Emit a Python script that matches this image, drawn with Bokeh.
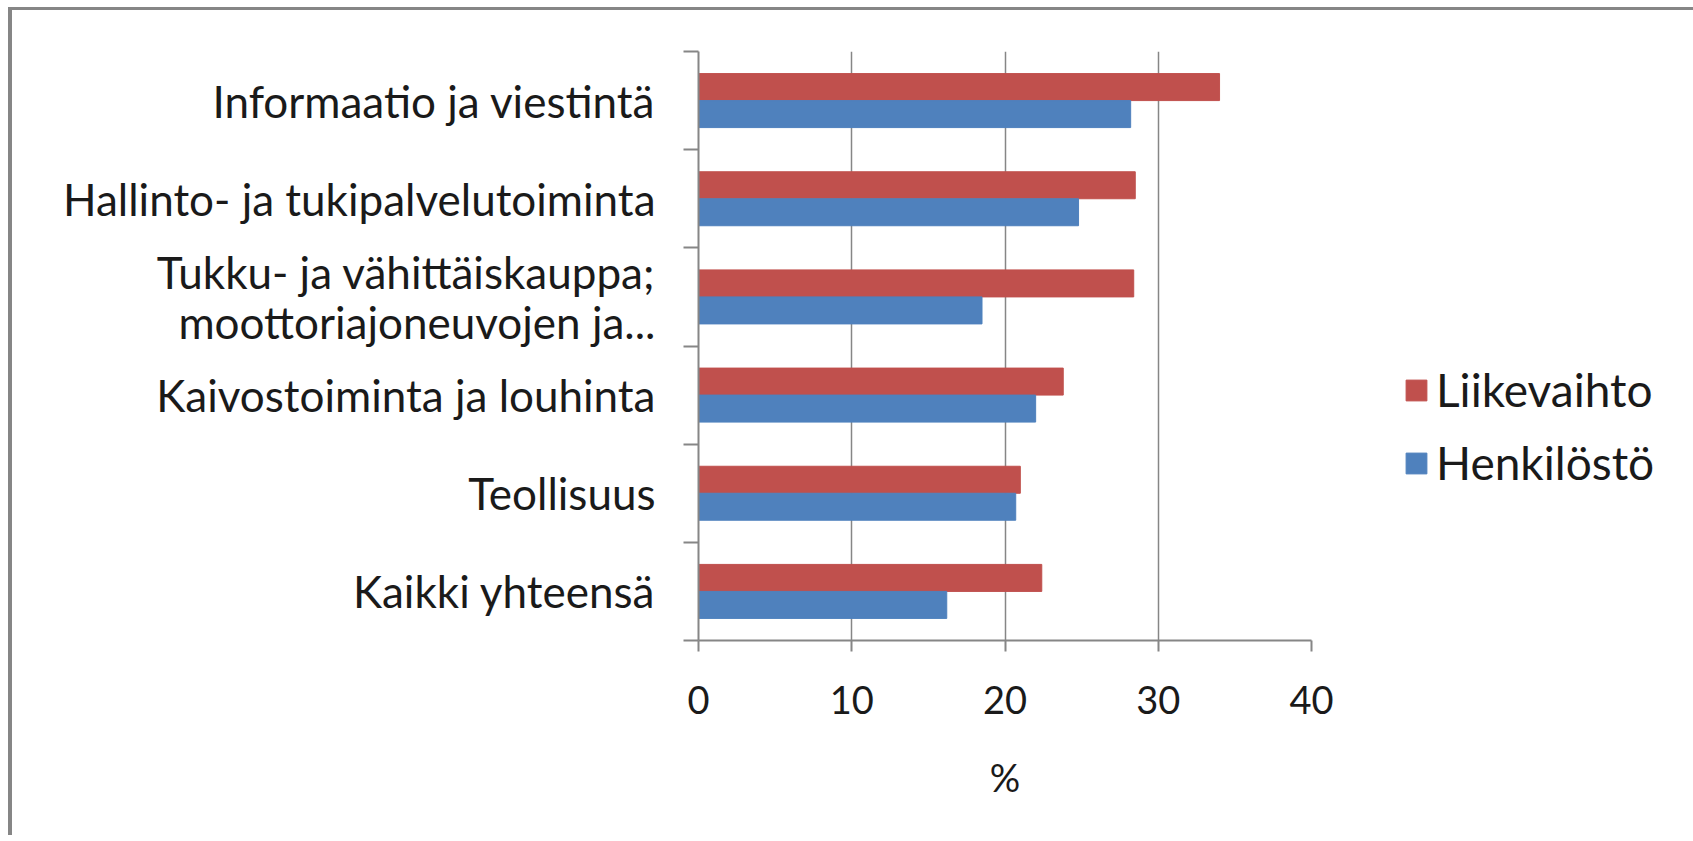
from bokeh.plotting import figure
from bokeh.models import (ColumnDataSource, FactorRange, Range1d, LinearAxis,
                          CategoricalAxis, FixedTicker, Legend, LegendItem)
from bokeh.transform import dodge
from bokeh.embed import file_html
from bokeh.resources import INLINE

categories = [
    "Kaikki yhteensä",
    "Teollisuus",
    "Kaivostoiminta ja louhinta",
    "Tukku- ja vähittäiskauppa;\nmoottoriajoneuvojen ja...",
    "Hallinto- ja tukipalvelutoiminta",
    "Informaatio ja viestintä",
]
liikevaihto = [22.4, 21.0, 23.8, 28.4, 28.5, 34.0]
henkilosto = [16.2, 20.7, 22.0, 18.5, 24.8, 28.2]
x_ticks = [0, 10, 20, 30, 40]
series_names = ["Liikevaihto", "Henkilöstö"]

RED = "#C0504D"
BLUE = "#4F81BD"
GREY = "#868686"
TXT = "#1a1a1a"
FONT = "Lato"

src = ColumnDataSource(dict(cat=categories, liike=liikevaihto, henk=henkilosto))

p = figure(frame_width=613, frame_height=589, y_range=FactorRange(*categories),
           x_range=Range1d(0, 40), output_backend="svg", toolbar_location=None,
           x_axis_location=None, y_axis_location=None,
           min_border_left=686, min_border_right=0,
           min_border_top=41, min_border_bottom=195,
           styles={"margin-left": "8px", "margin-top": "7px",
                   "border-top": f"3px solid {GREY}",
                   "border-left": f"4px solid {GREY}"})
p.outline_line_color = None
p.background_fill_color = "white"
p.border_fill_color = "white"

r1 = p.hbar(y=dodge("cat", 0.1375, range=p.y_range), right="liike", left=0,
            height=0.275, source=src, color=RED, line_color=RED)
r2 = p.hbar(y=dodge("cat", -0.1375, range=p.y_range), right="henk", left=0,
            height=0.275, source=src, color=BLUE, line_color=BLUE)

# x axis
xaxis = LinearAxis(ticker=FixedTicker(ticks=x_ticks), axis_label="%")
xaxis.axis_line_color = GREY
xaxis.axis_line_width = 2
xaxis.major_tick_line_color = GREY
xaxis.major_tick_line_width = 2
xaxis.major_tick_out = 11
xaxis.major_tick_in = 0
xaxis.minor_tick_line_color = None
xaxis.major_label_text_font = FONT
xaxis.major_label_text_font_size = "38px"
xaxis.major_label_text_color = TXT
xaxis.major_label_standoff = 34
xaxis.axis_label_text_font = FONT
xaxis.axis_label_text_font_size = "38px"
xaxis.axis_label_text_font_style = "normal"
xaxis.axis_label_text_color = TXT
xaxis.axis_label_standoff = 37
p.add_layout(xaxis, "below")

# y axis: category-boundary ticks (no labels)
bounds = list(range(len(categories) + 1))
ytick_axis = LinearAxis(ticker=FixedTicker(ticks=bounds))
ytick_axis.axis_line_color = GREY
ytick_axis.axis_line_width = 2
ytick_axis.major_tick_line_color = GREY
ytick_axis.major_tick_line_width = 2
ytick_axis.major_tick_out = 15
ytick_axis.major_tick_in = 0
ytick_axis.minor_tick_line_color = None
ytick_axis.major_label_overrides = {b: "" for b in bounds}
ytick_axis.major_label_standoff = 0
p.add_layout(ytick_axis, "left")

# y axis: category labels
ycat = CategoricalAxis()
ycat.axis_line_color = None
ycat.major_tick_line_color = None
ycat.major_tick_out = 0
ycat.major_tick_in = 0
ycat.major_label_text_font = FONT
ycat.major_label_text_font_size = "44px"
ycat.major_label_text_color = TXT
ycat.major_label_text_line_height = 0.95
ycat.major_label_standoff = 28
p.add_layout(ycat, "left")

p.xgrid.grid_line_color = GREY
p.xgrid.grid_line_width = 1.5
p.xgrid.ticker = FixedTicker(ticks=x_ticks)
p.ygrid.grid_line_color = None

lg = Legend(items=[LegendItem(label=series_names[0], renderers=[r1]),
                   LegendItem(label=series_names[1], renderers=[r2])],
            location=(92, 150), margin=0)
lg.border_line_color = None
lg.background_fill_alpha = 0
lg.label_text_font = FONT
lg.label_text_font_size = "46px"
lg.label_text_color = TXT
lg.glyph_width = 26
lg.glyph_height = 26
lg.label_height = 50
lg.label_standoff = 7
lg.spacing = 18
lg.padding = 10
p.add_layout(lg, "right")

open("out.html", "w").write(file_html(p, INLINE))
